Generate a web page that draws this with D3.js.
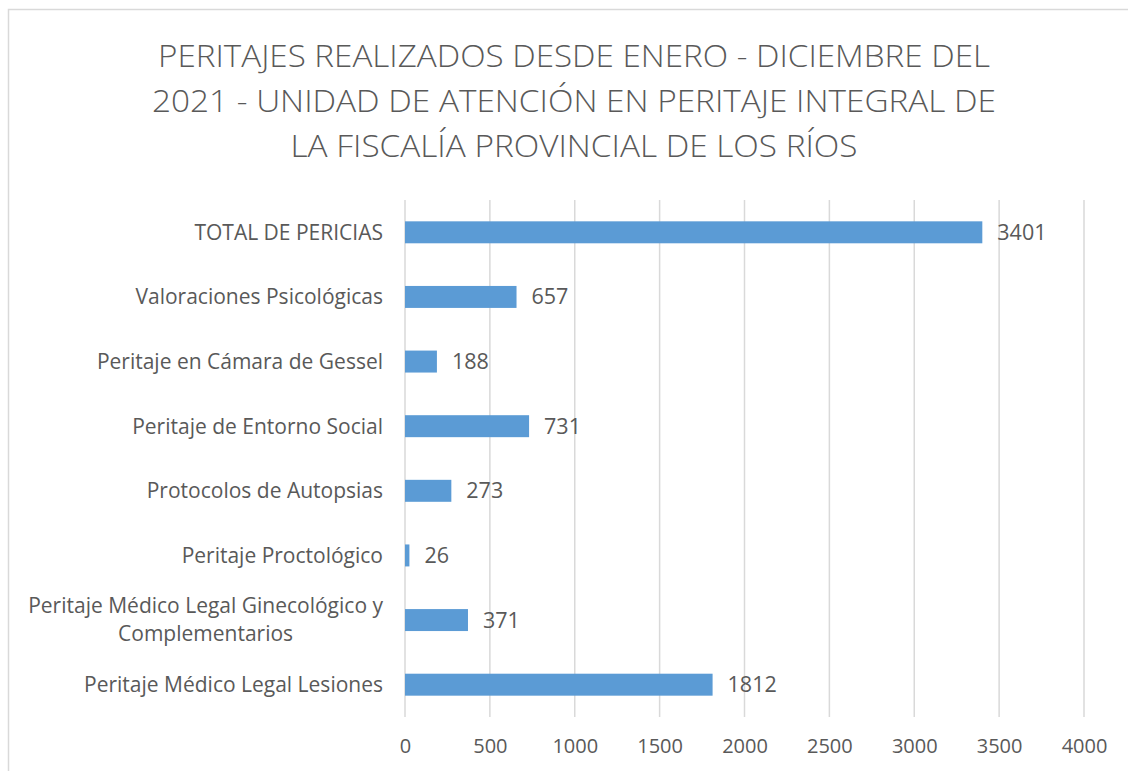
<!DOCTYPE html>
<html>
<head>
<meta charset="utf-8">
<script src="https://cdn.jsdelivr.net/npm/d3@7"></script>
<style>
  body { margin: 0; background: #fff; }
  svg text { font-family: "Open Sans", sans-serif; fill: #595959; }
</style>
</head>
<body>
<svg id="chart" width="1128" height="771"></svg>
<script>
// data, top row first
const categories = [
    "TOTAL DE PERICIAS",
    "Valoraciones Psicológicas",
    "Peritaje en Cámara de Gessel",
    "Peritaje de Entorno Social",
    "Protocolos de Autopsias",
    "Peritaje Proctológico",
    "Peritaje Médico Legal Ginecológico y|Complementarios",
    "Peritaje Médico Legal Lesiones"
];
const values = [3401, 657, 188, 731, 273, 26, 371, 1812];
const xTicks = [0, 500, 1000, 1500, 2000, 2500, 3000, 3500, 4000];
const titleLines = [
    "PERITAJES REALIZADOS DESDE ENERO - DICIEMBRE DEL",
    "2021 - UNIDAD DE ATENCIÓN EN PERITAJE INTEGRAL DE",
    "LA FISCALÍA PROVINCIAL DE LOS RÍOS"
];

const svg = d3.select('#chart');
const margin = { left: 405, right: 44, top: 200, bottom: 54 };
const W = 1128, H = 771;

// chart frame (only top/left edges visible)
svg.append('path')
    .attr('d', 'M8.5,' + H + 'V9.5H' + W)
    .attr('fill', 'none')
    .attr('stroke', '#d9d9d9')
    .attr('stroke-width', 1.5);

// title
const titleWidths = [832, 844, 567];
svg.append('g').selectAll('text')
    .data(titleLines)
    .enter().append('text')
    .attr('x', 574)
    .attr('y', (d, i) => 67 + i * 45)
    .attr('text-anchor', 'middle')
    .attr('font-size', 31)
    .attr('font-weight', 300)
    .attr('textLength', (d, i) => titleWidths[i])
    .attr('lengthAdjust', 'spacingAndGlyphs')
    .text(d => d);

const x = d3.scaleLinear().domain([0, 4000]).range([margin.left, W - margin.right]);
const y = d3.scaleBand().domain(categories).range([margin.top, H - margin.bottom]).paddingInner(0.66).paddingOuter(0.33);

// gridlines
svg.append('g').selectAll('line')
    .data(xTicks)
    .enter().append('line')
    .attr('x1', d => x(d)).attr('x2', d => x(d))
    .attr('y1', margin.top).attr('y2', H - margin.bottom)
    .attr('stroke', '#d9d9d9')
    .attr('stroke-width', 1.5);

// x axis labels
const xAxis = svg.append('g')
    .attr('transform', 'translate(0,' + (H - margin.bottom) + ')')
    .call(d3.axisBottom(x).tickValues(xTicks).tickSize(0).tickPadding(22).tickFormat(d3.format('d')));
xAxis.select('.domain').remove();
xAxis.selectAll('text')
    .attr('font-size', 20)
    .style('font-family', '"Open Sans", sans-serif')
    .attr('fill', '#595959');

// bars
svg.append('g').selectAll('rect')
    .data(values)
    .enter().append('rect')
    .attr('x', x(0))
    .attr('y', (d, i) => y(categories[i]))
    .attr('width', d => x(d) - x(0))
    .attr('height', y.bandwidth())
    .attr('fill', '#5b9bd5');

// value labels
svg.append('g').selectAll('text')
    .data(values)
    .enter().append('text')
    .attr('x', d => x(d) + 15)
    .attr('y', (d, i) => y(categories[i]) + y.bandwidth() / 2)
    .attr('dy', '0.35em')
    .attr('font-size', 21.5)
    .text(d => d);

// category labels (wrapped on '|', centered block, right edge at axis)
const labelSize = 21;
const labelG = svg.append('g');
categories.forEach(c => {
    const parts = c.split('|');
    const cy = y(c) + y.bandwidth() / 2;
    const t = labelG.append('text')
        .attr('font-size', labelSize)
        .attr('y', cy);
    if (parts.length === 1) {
        t.attr('x', 383).attr('text-anchor', 'end').attr('dy', '0.35em').text(c);
    } else {
        // measure widest line to center the block against right edge
        t.attr('text-anchor', 'middle');
        const probe = labelG.append('text').attr('font-size', labelSize).text(parts[0]);
        const w = probe.node().getComputedTextLength();
        probe.remove();
        const cx = 383 - w / 2;
        parts.forEach((p, i) => {
            t.append('tspan')
                .attr('x', cx)
                .attr('y', cy + (i - (parts.length - 1) / 2) * 28)
                .attr('dy', '0.35em')
                .text(p);
        });
    }
});
</script>
</body>
</html>
